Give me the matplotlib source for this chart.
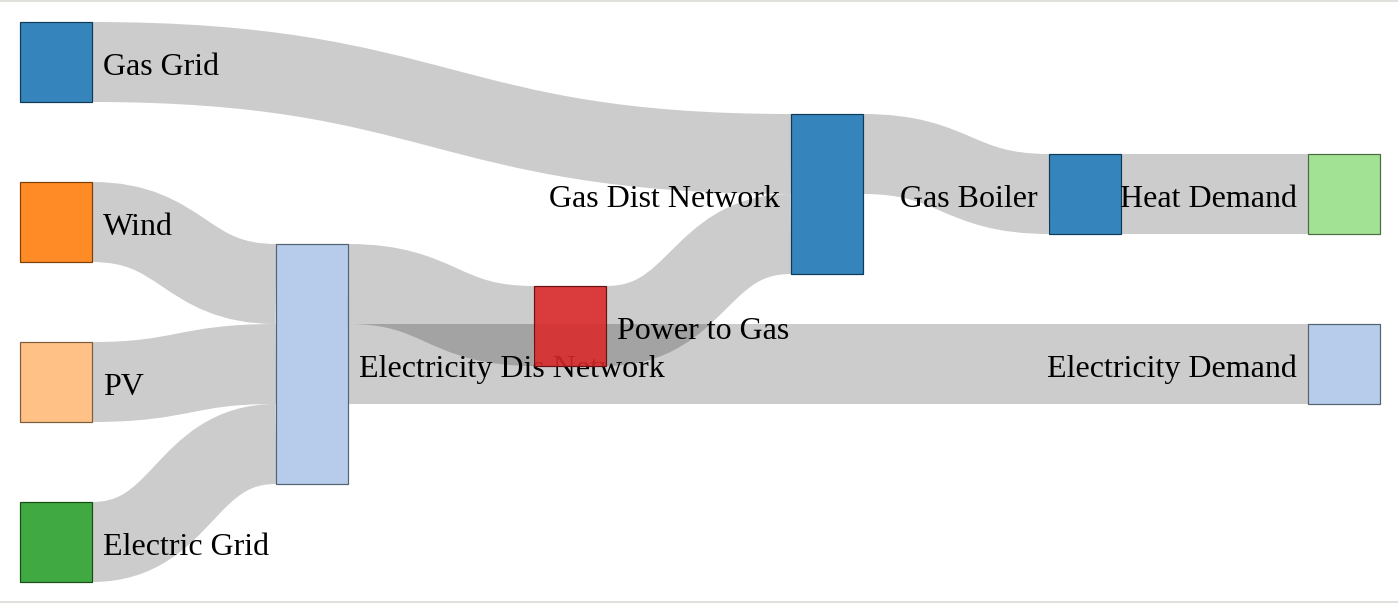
import matplotlib.pyplot as plt
from matplotlib.path import Path
from matplotlib.patches import PathPatch, Rectangle
import matplotlib.colors as mcolors

# 데이터: 노드와 링크
node_names = ["Gas Grid", "Wind", "PV", "Electric Grid", "Electricity Dis Network",
              "Power to Gas", "Gas Dist Network", "Gas Boiler", "Heat Demand",
              "Electricity Demand"]
node_colors = ["#1f77b4", "#ff7f0e", "#ffbb78", "#2ca02c", "#aec7e8",
               "#d62728", "#1f77b4", "#1f77b4", "#98df8a", "#aec7e8"]

link_source = ["Gas Grid", "Wind", "PV", "Electric Grid", "Electricity Dis Network",
               "Electricity Dis Network", "Power to Gas", "Gas Dist Network", "Gas Boiler"]
link_target = ["Gas Dist Network", "Electricity Dis Network", "Electricity Dis Network",
               "Electricity Dis Network", "Power to Gas", "Electricity Demand",
               "Gas Dist Network", "Gas Boiler", "Heat Demand"]
link_value = [1, 1, 1, 1, 1, 1, 1, 1, 1]

# 레이아웃 (픽셀 단위, d3 sankey 결과를 따라감)
W, H = 1398, 603
dpi = 100
margin_left = 20
chart_w = 1360
node_w = 72
ky = 80  # px per unit
node_col = {"Gas Grid": 0, "Wind": 0, "PV": 0, "Electric Grid": 0,
            "Electricity Dis Network": 1, "Power to Gas": 2, "Gas Dist Network": 3,
            "Gas Boiler": 4, "Heat Demand": 5, "Electricity Demand": 5}
node_top = {"Gas Grid": 22, "Wind": 182, "PV": 342, "Electric Grid": 502,
            "Electricity Dis Network": 244, "Power to Gas": 286, "Gas Dist Network": 114,
            "Gas Boiler": 154, "Heat Demand": 154, "Electricity Demand": 324}

n_cols = max(node_col.values())
kx = (chart_w - node_w) / n_cols

nodes = {}
for name in node_names:
    v_in = sum(v for s, t, v in zip(link_source, link_target, link_value) if t == name)
    v_out = sum(v for s, t, v in zip(link_source, link_target, link_value) if s == name)
    val = max(v_in, v_out)
    x = margin_left + int(node_col[name] * kx) - (1 if 0 < node_col[name] < n_cols else 0)
    nodes[name] = {"x": x, "y": node_top[name], "dy": val * ky}

# 링크 위치 계산
links = []
for s, t, v in zip(link_source, link_target, link_value):
    links.append({"s": s, "t": t, "dy": v * ky})

def center(n):
    return nodes[n]["y"] + nodes[n]["dy"] / 2

for name in node_names:
    outs = sorted([l for l in links if l["s"] == name], key=lambda l: center(l["t"]))
    sy = 0
    for l in outs:
        l["sy"] = sy
        sy += l["dy"]
    ins = sorted([l for l in links if l["t"] == name], key=lambda l: center(l["s"]))
    ty = 0
    for l in ins:
        l["ty"] = ty
        ty += l["dy"]

fig = plt.figure(figsize=(W / dpi, H / dpi), dpi=dpi)
ax = fig.add_axes([0, 0, 1, 1])
ax.set_xlim(0, W)
ax.set_ylim(H, 0)
ax.axis("off")

px2pt = 72.0 / dpi

# 링크 그리기
for l in links:
    x0 = nodes[l["s"]]["x"] + node_w
    x1 = nodes[l["t"]]["x"]
    xm = (x0 + x1) / 2
    y0 = nodes[l["s"]]["y"] + l["sy"] + l["dy"] / 2
    y1 = nodes[l["t"]]["y"] + l["ty"] + l["dy"] / 2
    path = Path([(x0, y0), (xm, y0), (xm, y1), (x1, y1)],
                [Path.MOVETO, Path.CURVE4, Path.CURVE4, Path.CURVE4])
    patch = PathPatch(path, facecolor="none", edgecolor=(0, 0, 0, 0.2),
                      linewidth=l["dy"] * px2pt, capstyle="butt", zorder=1)
    ax.add_patch(patch)

# 노드 + 라벨
fs = 32 * px2pt
z = 2
for name, col in zip(node_names, node_colors):
    n = nodes[name]
    rgb = mcolors.to_rgb(col)
    dark = tuple(c * 0.49 for c in rgb)
    ax.add_patch(Rectangle((n["x"], n["y"]), node_w, n["dy"],
                           facecolor=rgb + (0.9,), edgecolor=dark,
                           linewidth=1.2 * px2pt, zorder=z))
    ty = n["y"] + n["dy"] / 2 + 0.35 * 32 + 2
    if n["x"] < chart_w / 2:
        ax.text(n["x"] + node_w + 11, ty, name, ha="left", va="baseline",
                fontsize=fs, family="Liberation Serif", color="black", zorder=z + 1)
    else:
        ax.text(n["x"] - 11, ty, name, ha="right", va="baseline",
                fontsize=fs, family="Liberation Serif", color="black", zorder=z + 1)
    z += 2

# 테두리
ax.plot([0, W], [0.5, 0.5], color="#d6d6d2", linewidth=1.5 * px2pt, zorder=50)
ax.plot([0, W], [601.5, 601.5], color="#d6d6d2", linewidth=1.5 * px2pt, zorder=50)

plt.savefig("out.png", dpi=dpi)
